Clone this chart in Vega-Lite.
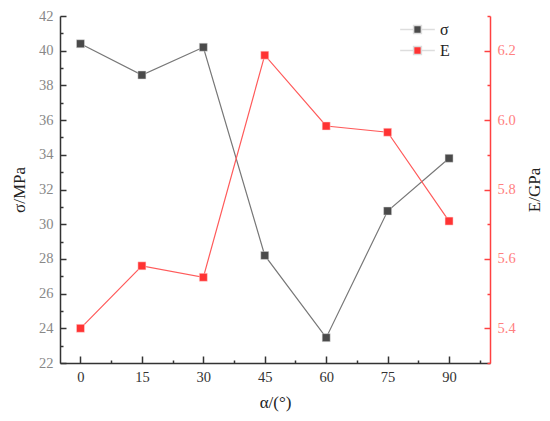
{
  "$schema": "https://vega.github.io/schema/vega-lite/v6.json",
  "autosize": {"type": "none"},
  "padding": {"left": 60, "top": 16, "right": 60, "bottom": 58},
  "width": 430,
  "height": 347,
  "background": "white",
  "config": {
    "view": {"stroke": null},
    "font": "Liberation Serif"
  },
  "data": {
    "values": [
      {"alpha": 0, "sigma": 40.4, "E": 5.40},
      {"alpha": 15, "sigma": 38.6, "E": 5.58},
      {"alpha": 30, "sigma": 40.2, "E": 5.547},
      {"alpha": 45, "sigma": 28.2, "E": 6.187},
      {"alpha": 60, "sigma": 23.46, "E": 5.983},
      {"alpha": 75, "sigma": 30.76, "E": 5.965},
      {"alpha": 90, "sigma": 33.8, "E": 5.709}
    ]
  },
  "encoding": {
    "x": {
      "field": "alpha",
      "type": "quantitative",
      "scale": {"domain": [-5, 100], "nice": false, "zero": false},
      "axis": {
        "title": "α/(°)",
        "titleFontSize": 17,
        "titleFontWeight": "normal",
        "titleColor": "#222",
        "titlePadding": 11,
        "values": [0, 7.5, 15, 22.5, 30, 37.5, 45, 52.5, 60, 67.5, 75, 82.5, 90, 97.5],
        "labelExpr": "datum.value % 15 === 0 ? datum.label : ''",
        "labelFontSize": 14.5,
        "labelColor": "#333",
        "labelPadding": 14,
        "grid": false,
        "domainColor": "#333",
        "domainWidth": 1.5,
        "tickColor": "#333",
        "tickWidth": 1.5,
        "tickSize": {"condition": {"test": "datum.value % 15 === 0", "value": -7}, "value": -3}
      }
    }
  },
  "layer": [
    {
      "mark": {"type": "line", "color": "#777777", "strokeWidth": 1.2},
      "encoding": {
        "y": {
          "field": "sigma",
          "type": "quantitative",
          "scale": {"domain": [22, 42], "nice": false, "zero": false},
          "axis": {
            "orient": "left",
            "title": "σ/MPa",
            "titleFontSize": 17,
            "titleFontWeight": "normal",
            "titleColor": "#222",
            "titlePadding": 10,
            "values": [22, 23, 24, 25, 26, 27, 28, 29, 30, 31, 32, 33, 34, 35, 36, 37, 38, 39, 40, 41, 42],
            "labelExpr": "datum.value % 2 === 0 ? datum.label : ''",
            "labelFontSize": 14.5,
            "labelColor": "#888888",
            "labelPadding": 13,
            "grid": false,
            "domainColor": "#333",
            "domainWidth": 1.5,
            "tickColor": "#333",
            "tickWidth": 1.5,
            "tickSize": {"condition": {"test": "datum.value % 2 === 0", "value": -6}, "value": -3}
          }
        }
      }
    },
    {
      "mark": {"type": "point", "shape": "square", "filled": true, "size": 64, "opacity": 1, "stroke": "#dddddd", "strokeWidth": 0.5},
      "encoding": {
        "y": {"field": "sigma", "type": "quantitative", "scale": {"domain": [22, 42], "nice": false, "zero": false}, "axis": null},
        "color": {
          "datum": "σ",
          "type": "nominal",
          "scale": {"domain": ["σ", "E"], "range": ["#4a4a4a", "#ff3333"]},
          "legend": {
            "orient": "none",
            "legendX": 348,
            "legendY": 4,
            "title": null,
            "symbolType": "M-2,0H-0.45M0.45,0H2M-0.45,-0.45H0.45V0.45H-0.45Z",
            "symbolSize": 300,
            "labelFontSize": 16,
            "labelColor": "#222",
            "labelOffset": 13,
            "rowPadding": 3,
            "encode": {
              "symbols": {
                "update": {
                  "fill": {"scale": "color", "field": "value"},
                  "stroke": {"scale": "color", "field": "value"},
                  "strokeWidth": {"value": 1.4},
                  "strokeOpacity": {"value": 0.75},
                  "opacity": {"value": 1}
                }
              }
            }
          }
        }
      }
    },
    {
      "mark": {"type": "line", "color": "#ff5a5a", "strokeWidth": 1.2},
      "encoding": {
        "y": {
          "field": "E",
          "type": "quantitative",
          "scale": {"domain": [5.3, 6.3], "nice": false, "zero": false},
          "axis": {
            "orient": "right",
            "title": "E/GPa",
            "titleAngle": 270,
            "titleFontSize": 17,
            "titleFontWeight": "normal",
            "titleColor": "#222",
            "titlePadding": 28,
            "values": [5.3, 5.4, 5.5, 5.6, 5.7, 5.8, 5.9, 6.0, 6.1, 6.2, 6.3],
            "format": ".1f",
            "labelExpr": "round(datum.value * 10) % 2 === 0 ? datum.label : ''",
            "labelFontSize": 14.5,
            "labelColor": "#ff8080",
            "labelPadding": 13,
            "grid": false,
            "domainColor": "#ff4040",
            "domainWidth": 1.5,
            "tickColor": "#ff4040",
            "tickWidth": 1.5,
            "tickSize": {"condition": {"test": "round(datum.value * 10) % 2 === 0", "value": -6}, "value": -3}
          }
        }
      }
    },
    {
      "mark": {"type": "point", "shape": "square", "filled": true, "size": 64, "opacity": 1, "stroke": "#ffdddd", "strokeWidth": 0.5},
      "encoding": {
        "y": {"field": "E", "type": "quantitative", "scale": {"domain": [5.3, 6.3], "nice": false, "zero": false}, "axis": null},
        "color": {"datum": "E", "type": "nominal"}
      }
    }
  ],
  "resolve": {"scale": {"y": "independent"}}
}
